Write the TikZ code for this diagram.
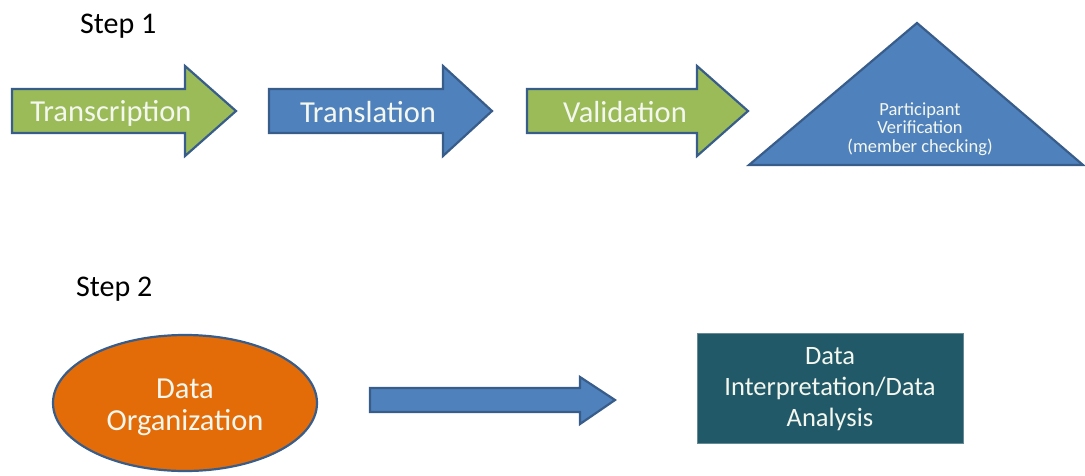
\documentclass[tikz,border=0pt]{standalone}
\usepackage{fontspec}
\setmainfont{Carlito}
\usetikzlibrary{shapes.geometric}
\definecolor{grn}{HTML}{9BBB59}
\definecolor{blu}{HTML}{4F81BD}
\definecolor{edgeblue}{HTML}{385D8A}
\definecolor{orng}{HTML}{E36C09}
\definecolor{tealbox}{HTML}{215968}
\definecolor{txt}{HTML}{F4F7EE}
\begin{document}
\begin{tikzpicture}[x=1pt,y=-1pt,
  greenarrow/.style={fill=grn,draw=edgeblue,line width=2.2pt,line join=miter},
  bluearrow/.style={fill=blu,draw=edgeblue,line width=2.2pt,line join=miter},
  bigtext/.style={text=txt,font=\fontsize{30.5}{32}\selectfont,inner sep=0pt,align=center},
  midtext/.style={text=txt,font=\fontsize{26.5}{31}\selectfont,inner sep=0pt,align=center},
  smalltext/.style={text=txt,font=\fontsize{18.5}{18.5}\selectfont,inner sep=0pt,align=center},
  steplabel/.style={text=black,font=\fontsize{30}{32}\selectfont,inner sep=0pt,anchor=west}]
\useasboundingbox (0,0) rectangle (1085,475);
% Step 1
\node[steplabel] (s1) at (80,26) {Step 1};
\draw[greenarrow] (12,89) -- (185,89) -- (185,66) -- (236,111) -- (185,156) -- (185,133) -- (12,133) -- cycle;
\node[bigtext] (t1) at (111,113) {Transcription};
\draw[bluearrow] (269,89) -- (443,89) -- (443,66) -- (492,111) -- (443,156) -- (443,133) -- (269,133) -- cycle;
\node[bigtext] (t2) at (368,112) {Translation};
\draw[greenarrow] (527,89) -- (697,89) -- (697,66) -- (748,111) -- (697,156) -- (697,133) -- (527,133) -- cycle;
\node[bigtext] (t3) at (625,112) {Validation};
\draw[bluearrow] (917,23) -- (1083,165) -- (749,165) -- cycle;
\node[smalltext] (t4) at (920,129) {Participant\\Verification\\(member checking)};
% Step 2
\node[steplabel] (s2) at (76,289) {Step 2};
\node[ellipse,fill=orng,draw=edgeblue,line width=2.2pt,minimum width=264pt,minimum height=136pt] (org) at (185,403) {};
\node[bigtext] (orgtext) at (185,407) {Data\\Organization};
\draw[bluearrow] (370,388) -- (580,388) -- (580,377) -- (615,400) -- (580,424) -- (580,412) -- (370,412) -- cycle;
\node[fill=tealbox,draw=tealbox!70!white,line width=1pt,minimum width=266pt,minimum height=110pt] (ana) at (830,388) {};
\node[midtext] (anatext) at (830,389) {Data\\Interpretation/Data\\Analysis};
\end{tikzpicture}
\end{document}
